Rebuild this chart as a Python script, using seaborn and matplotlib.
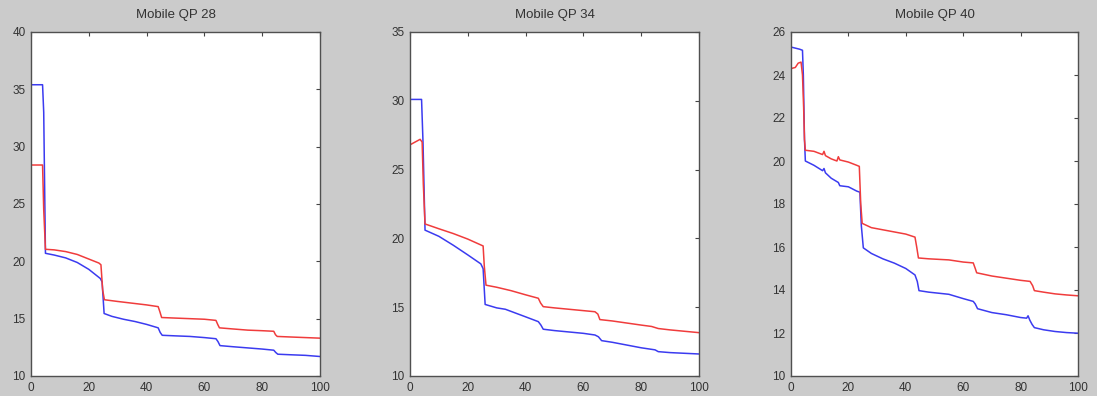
import matplotlib
matplotlib.use("Agg")
import matplotlib.pyplot as plt
import seaborn as sns
import pandas as pd

# ---- Mobile QP 28 ----
qp28_blue_x = [0, 4, 4.4, 5, 8, 12, 16, 20, 24, 24.6, 25.3, 28, 32, 36, 40, 44, 44.7, 45.4,
               50, 55, 60, 64, 64.7, 65.4, 70, 75, 80, 84, 84.7, 85.4, 90, 95, 100]
qp28_blue_y = [35.4, 35.4, 33.0, 20.7, 20.55, 20.3, 19.9, 19.3, 18.5, 18.2, 15.45, 15.2, 14.95,
               14.75, 14.5, 14.2, 13.8, 13.55, 13.5, 13.45, 13.35, 13.25, 13.0, 12.65, 12.55,
               12.45, 12.35, 12.25, 12.05, 11.9, 11.85, 11.8, 11.7]
qp28_red_x = [0, 4, 4.4, 5, 8, 12, 16, 20, 23.5, 24.2, 24.8, 25.4, 30, 35, 40, 44, 44.6, 45.2,
              50, 55, 60, 64, 64.6, 65.2, 70, 75, 80, 84, 84.6, 85.2, 90, 95, 100]
qp28_red_y = [28.4, 28.4, 24.5, 21.05, 21.0, 20.85, 20.6, 20.2, 19.85, 19.7, 17.5, 16.65, 16.5,
              16.35, 16.2, 16.05, 15.6, 15.1, 15.05, 15.0, 14.95, 14.85, 14.5, 14.2, 14.1,
              14.0, 13.95, 13.9, 13.6, 13.45, 13.4, 13.35, 13.3]

# ---- Mobile QP 34 ----
qp34_blue_x = [0, 4, 4.5, 5.2, 10, 15, 20, 24.5, 25.3, 26, 30, 33, 40, 44.4, 45.3, 46.1, 50,
               55, 60, 64, 65.2, 66.3, 70, 75, 80, 84.8, 85.9, 90, 95, 100]
qp34_blue_y = [30.1, 30.1, 27.0, 20.6, 20.15, 19.5, 18.8, 18.15, 17.8, 15.2, 14.95, 14.85,
               14.3, 13.95, 13.7, 13.4, 13.3, 13.2, 13.1, 12.98, 12.85, 12.57, 12.45, 12.25,
               12.05, 11.9, 11.77, 11.7, 11.65, 11.6]
qp34_red_x = [0, 3.5, 4.2, 4.6, 5.2, 10, 15, 20, 25.3, 25.7, 26.3, 30, 35, 40, 44.4, 45.2,
              46.1, 50, 55, 60, 64, 65, 65.7, 70, 75, 80, 83.6, 85.9, 90, 95, 100]
qp34_red_y = [26.8, 27.2, 27.0, 24.0, 21.05, 20.7, 20.35, 19.95, 19.45, 18.0, 16.6, 16.45,
              16.2, 15.9, 15.65, 15.3, 15.04, 14.95, 14.85, 14.75, 14.67, 14.5, 14.1, 14.0,
              13.85, 13.7, 13.6, 13.45, 13.35, 13.25, 13.15]

# ---- Mobile QP 40 ----
qp40_blue_x = [0, 3, 4, 4.3, 4.7, 5, 8, 11, 11.5, 12, 14, 16.5, 17, 20, 22.9, 24, 24.5, 25.2,
               28, 32, 36, 40, 43.2, 44, 44.6, 48, 55, 60, 63.5, 64.2, 65, 70, 75, 80, 82.1,
               82.6, 83.2, 84, 84.8, 88, 92, 96, 100]
qp40_blue_y = [25.3, 25.2, 25.15, 24.0, 21.0, 20.0, 19.8, 19.55, 19.65, 19.45, 19.2, 19.0,
               18.85, 18.8, 18.6, 18.55, 17.0, 15.96, 15.7, 15.45, 15.25, 15.0, 14.7, 14.4,
               13.97, 13.9, 13.8, 13.6, 13.47, 13.35, 13.13, 12.95, 12.85, 12.72, 12.69, 12.8,
               12.6, 12.4, 12.25, 12.15, 12.07, 12.02, 11.99]
qp40_red_x = [0, 1.5, 2.5, 3.5, 4.0, 4.4, 4.7, 5, 8, 10, 11, 11.5, 12, 14, 16, 16.5, 17, 20,
              22.9, 23.8, 24.3, 24.8, 28, 32, 36, 40, 43.2, 43.8, 44.4, 48, 55, 60, 63.5,
              64.2, 64.7, 70, 75, 80, 83.3, 84.2, 84.8, 88, 92, 96, 100]
qp40_red_y = [24.3, 24.35, 24.55, 24.6, 24.0, 22.5, 21.0, 20.5, 20.45, 20.35, 20.3, 20.45,
              20.25, 20.1, 20.0, 20.2, 20.05, 19.95, 19.8, 19.75, 18.0, 17.1, 16.9, 16.8,
              16.7, 16.6, 16.46, 16.0, 15.49, 15.45, 15.4, 15.3, 15.26, 15.0, 14.8, 14.65,
              14.55, 14.45, 14.4, 14.2, 13.97, 13.9, 13.82, 13.77, 13.73]

titles = ["Mobile QP 28", "Mobile QP 34", "Mobile QP 40"]
x_ticks = [0, 20, 40, 60, 80, 100]
y_ticks = [[10, 15, 20, 25, 30, 35, 40],
           [10, 15, 20, 25, 30, 35],
           [10, 12, 14, 16, 18, 20, 22, 24, 26]]

panels = [
    (qp28_blue_x, qp28_blue_y, qp28_red_x, qp28_red_y),
    (qp34_blue_x, qp34_blue_y, qp34_red_x, qp34_red_y),
    (qp40_blue_x, qp40_blue_y, qp40_red_x, qp40_red_y),
]

sns.set_style("white")
plt.rcParams["font.family"] = ["Liberation Sans", "DejaVu Sans"]

fig = plt.figure(figsize=(10.97, 3.96), dpi=100)
fig.patch.set_facecolor("#cbcbcb")

# axes rectangles in figure fractions: left, bottom, width, height
rects = [
    (31 / 1097, 20 / 396, 289 / 1097, 344 / 396),
    (410 / 1097, 20 / 396, 289 / 1097, 344 / 396),
    (791 / 1097, 20 / 396, 287 / 1097, 344 / 396),
]

BLUE = "#3b3bf0"
RED = "#f03c3c"

for rect, (bx, by, rx, ry), title, yt in zip(rects, panels, titles, y_ticks):
    ax = fig.add_axes(rect)
    ax.set_facecolor("white")
    blue_df = pd.DataFrame({"x": bx, "y": by})
    red_df = pd.DataFrame({"x": rx, "y": ry})
    sns.lineplot(data=blue_df, x="x", y="y", ax=ax, color=BLUE, lw=1.1,
                 sort=False, estimator=None)
    sns.lineplot(data=red_df, x="x", y="y", ax=ax, color=RED, lw=1.1,
                 sort=False, estimator=None)
    ax.set_xlim(0, 100)
    ax.set_ylim(yt[0], yt[-1])
    ax.set_xticks(x_ticks)
    ax.set_yticks(yt)
    ax.set_xlabel("")
    ax.set_ylabel("")
    ax.set_title(title, fontsize=9.5, color="#333333", pad=10)
    ax.tick_params(direction="in", top=True, right=True, length=3, width=0.8,
                   colors="#444444", labelcolor="#333333", labelsize=8.5, pad=4)
    for sp in ax.spines.values():
        sp.set_visible(True)
        sp.set_color("#505050")
        sp.set_linewidth(1.0)

fig.savefig("out.png", dpi=100, facecolor=fig.get_facecolor())
